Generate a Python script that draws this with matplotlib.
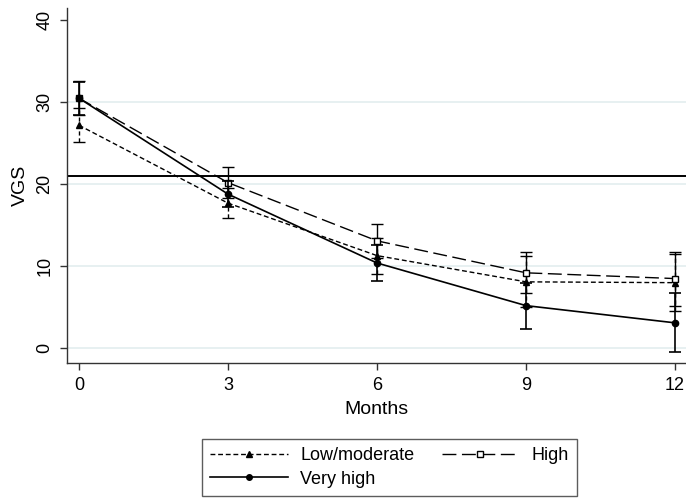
import numpy as np
import matplotlib.pyplot as plt
from matplotlib.lines import Line2D

plt.rcParams['font.family'] = ['Liberation Sans', 'DejaVu Sans']

months = [0, 3, 6, 9, 12]

low_mean = [27.2, 17.7, 11.3, 8.1, 8.0]
low_err = [2.1, 1.8, 2.2, 3.1, 3.5]

high_mean = [30.5, 20.2, 13.1, 9.2, 8.5]
high_err = [2.1, 1.9, 2.1, 2.5, 3.3]

vhigh_mean = [30.5, 18.8, 10.4, 5.2, 3.1]
vhigh_err = [2.0, 1.6, 2.2, 2.8, 3.6]

ref_line = 21

fig = plt.figure(figsize=(6.86, 4.99), dpi=100)
ax = fig.add_axes([0.0977, 0.2725, 0.9023, 0.7115])

for y in [0, 10, 20, 30]:
    ax.axhline(y, color='#e3edef', lw=1.2, zorder=0)

ax.axhline(ref_line, color='black', lw=1.4, zorder=1)

low_ls = (0, (3.5, 2))
high_ls = (0, (10, 4))

l1 = ax.errorbar(months, low_mean, yerr=low_err, color='black', lw=1.0,
                 ls=low_ls, marker='^', ms=4.5, capsize=4, elinewidth=1.0,
                 capthick=1.0, zorder=3)
l1[2][0].set_linestyle((0, (3, 2)))

ax.errorbar(months, high_mean, yerr=high_err, color='black', lw=1.0,
            ls=high_ls, marker='s', ms=4.5, mfc='white', mew=1.0,
            capsize=4, elinewidth=1.0, capthick=1.0, zorder=3)

ax.errorbar(months, vhigh_mean, yerr=vhigh_err, color='black', lw=1.2,
            ls='-', marker='o', ms=4.5, capsize=4, elinewidth=1.2,
            capthick=1.2, zorder=4)

ax.set_xlim(-0.24, 12.22)
ax.set_ylim(-1.8, 41.5)
ax.set_xticks(months)
ax.set_yticks([0, 10, 20, 30, 40])
ax.tick_params(axis='both', direction='out', length=5, width=1.0,
               color='#333333', labelsize=13, pad=5)
for lab in ax.get_yticklabels():
    lab.set_rotation(90)
    lab.set_va('center')

for s in ['top', 'right']:
    ax.spines[s].set_visible(False)
for s in ['left', 'bottom']:
    ax.spines[s].set_color('#333333')
    ax.spines[s].set_linewidth(1.0)

ax.set_xlabel('Months', fontsize=14, labelpad=5)
ax.set_ylabel('VGS', fontsize=14, labelpad=5)

h_low = Line2D([], [], color='black', lw=1.0, ls=low_ls, marker='^', ms=4)
h_high = Line2D([], [], color='black', lw=1.0, ls=high_ls, marker='s', ms=4,
                mfc='white')
h_vhigh = Line2D([], [], color='black', lw=1.2, ls='-', marker='o', ms=4)

# column-wise fill: low / very high in col 1, high in col 2
leg = fig.legend([h_low, h_vhigh, h_high], ['Low/moderate', 'Very high', 'High'],
                 ncol=2, loc='center', bbox_to_anchor=(0.568, 0.063),
                 fontsize=13, frameon=True, fancybox=False,
                 edgecolor='#333333', handlelength=4.3, columnspacing=1.5,
                 borderpad=0.45, labelspacing=0.35, handletextpad=0.7)
leg.get_frame().set_linewidth(1.0)

fig.savefig('out.png', dpi=100)
